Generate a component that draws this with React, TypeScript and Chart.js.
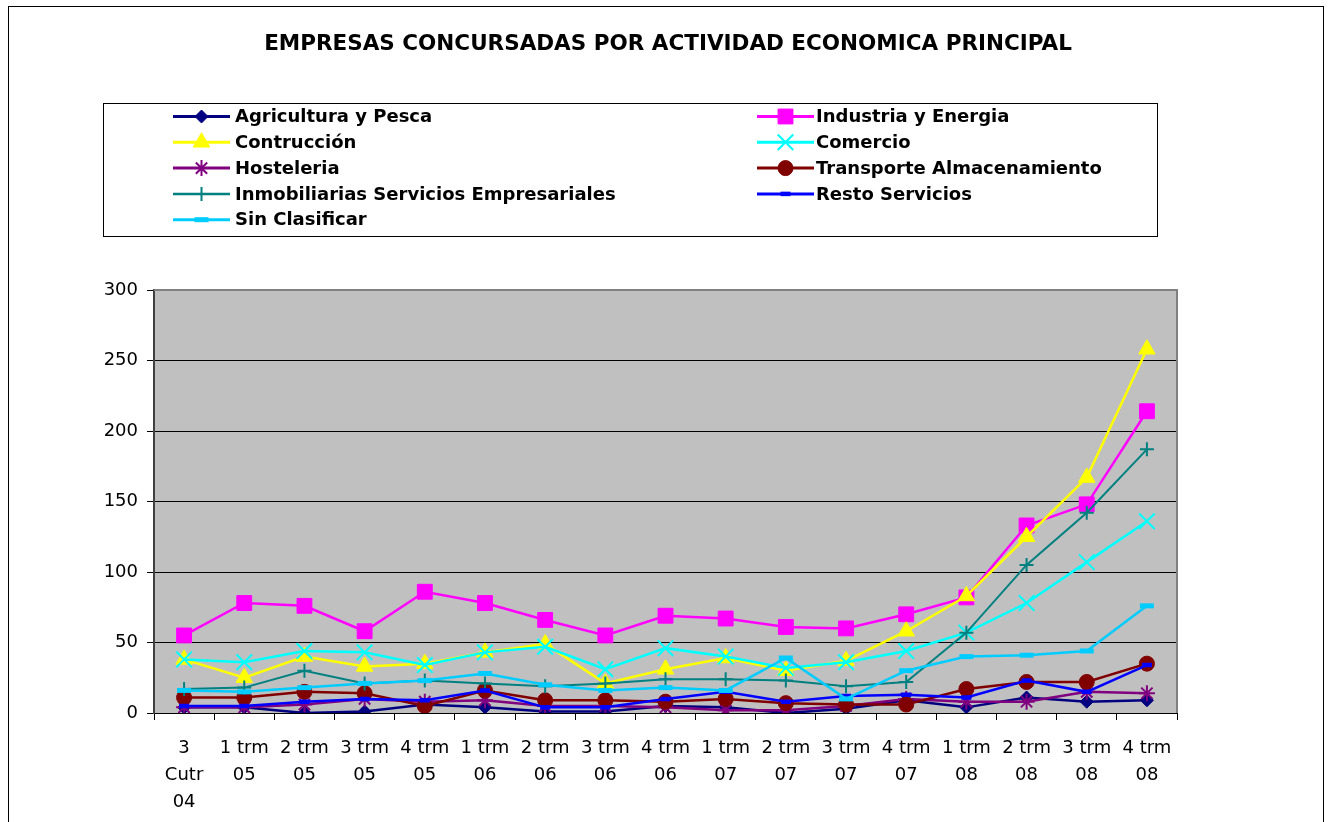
import React, { useEffect, useRef } from 'react';
import { Chart, registerables } from 'chart.js';
import { drawPoint } from 'chart.js/helpers';

Chart.register(...registerables);

const FONT = '"DejaVu Sans", "Liberation Sans", Arial, sans-serif';

const title = 'EMPRESAS CONCURSADAS POR ACTIVIDAD ECONOMICA PRINCIPAL';

const categories: string[][] = [
  ['3', 'Cutr', '04'],
  ['1 trm', '05'], ['2 trm', '05'], ['3 trm', '05'], ['4 trm', '05'],
  ['1 trm', '06'], ['2 trm', '06'], ['3 trm', '06'], ['4 trm', '06'],
  ['1 trm', '07'], ['2 trm', '07'], ['3 trm', '07'], ['4 trm', '07'],
  ['1 trm', '08'], ['2 trm', '08'], ['3 trm', '08'], ['4 trm', '08'],
];

const agricultura = [4, 4, 0, 1, 6, 4, 1, 1, 5, 4, 0, 3, 9, 4, 11, 8, 9];
const industria = [55, 78, 76, 58, 86, 78, 66, 55, 69, 67, 61, 60, 70, 82, 133, 148, 214];
const construccion = [38, 25, 40, 33, 35, 43, 49, 21, 31, 39, 30, 37, 58, 83, 125, 167, 258];
const comercio = [38, 36, 44, 43, 34, 43, 47, 31, 46, 40, 32, 36, 44, 57, 78, 107, 136];
const hosteleria = [4, 4, 6, 10, 8, 9, 5, 5, 4, 2, 2, 5, 10, 8, 8, 15, 14];
const transporte = [11, 11, 15, 14, 5, 16, 9, 9, 8, 10, 7, 6, 6, 17, 22, 22, 35];
const inmobiliarias = [17, 18, 30, 21, 23, 21, 19, 21, 24, 24, 23, 19, 22, 57, 105, 142, 187];
const resto = [5, 5, 8, 10, 9, 16, 4, 4, 10, 15, 8, 12, 13, 11, 23, 15, 34];
const sinClasificar = [16, 15, 18, 21, 23, 28, 20, 16, 18, 16, 39, 10, 30, 40, 41, 44, 76];

const yTicks = { min: 0, max: 300, step: 50 };

const seriesNames = [
  'Agricultura y Pesca',
  'Industria y Energia',
  'Contrucción',
  'Comercio',
  'Hosteleria',
  'Transporte Almacenamiento',
  'Inmobiliarias Servicios Empresariales',
  'Resto Servicios',
  'Sin Clasificar',
];
const seriesData = [agricultura, industria, construccion, comercio, hosteleria, transporte, inmobiliarias, resto, sinClasificar];
const seriesColors = ['#000080', '#FF00FF', '#FFFF00', '#00FFFF', '#800080', '#800000', '#008080', '#0000FF', '#00CCFF'];
const seriesStyles = ['rectRot', 'rect', 'triangle', 'crossRot', 'star', 'circle', 'cross', 'line', 'line'];
const seriesRadius = [6.5, 10.5, 9.5, 11, 8, 7.5, 7, 5, 7];
const seriesPointBorder = [1, 1, 1, 2, 2, 1, 2, 4.5, 5];
const seriesLineWidth = [2.5, 2.5, 2.5, 2.5, 2.5, 2.5, 2, 2.5, 2.5];

const plotBgPlugin = {
  id: 'plotBg',
  beforeDraw(chart: any) {
    const { ctx, chartArea: a } = chart;
    ctx.save();
    ctx.fillStyle = '#C0C0C0';
    ctx.fillRect(a.left, a.top, a.right - a.left, a.bottom - a.top);
    ctx.restore();
  },
  beforeDatasetsDraw(chart: any) {
    const { ctx, chartArea: a } = chart;
    ctx.save();
    ctx.strokeStyle = '#808080';
    ctx.lineWidth = 2;
    ctx.beginPath();
    ctx.moveTo(a.left, a.top);
    ctx.lineTo(a.right, a.top);
    ctx.lineTo(a.right, a.bottom);
    ctx.stroke();
    ctx.restore();
  },
};

const titleLegendPlugin = {
  id: 'titleLegend',
  afterDraw(chart: any) {
    const ctx = chart.ctx as CanvasRenderingContext2D;
    ctx.save();
    // title
    ctx.fillStyle = '#000';
    ctx.font = `bold 21.5px ${FONT}`;
    ctx.textAlign = 'center';
    ctx.textBaseline = 'alphabetic';
    ctx.fillText(title, chart.width / 2 + 2, 43);

    // legend box
    ctx.strokeStyle = '#000';
    ctx.lineWidth = 1;
    ctx.strokeRect(94.5, 96.5, 1054, 133);

    ctx.font = `bold 18px ${FONT}`;
    ctx.textAlign = 'left';
    ctx.textBaseline = 'middle';
    chart.data.datasets.forEach((ds: any, i: number) => {
      const col = i % 2;
      const row = Math.floor(i / 2);
      const x0 = col ? 748 : 164;
      const x1 = x0 + 57;
      const tx = col ? 807 : 226;
      const y = 109.5 + 25.8 * row;
      ctx.strokeStyle = ds.borderColor;
      ctx.lineWidth = ds.borderWidth + 0.5;
      ctx.setLineDash([]);
      ctx.beginPath();
      ctx.moveTo(x0, y);
      ctx.lineTo(x1, y);
      ctx.stroke();
      ctx.fillStyle = ds.pointBackgroundColor;
      ctx.strokeStyle = ds.pointBorderColor;
      ctx.lineWidth = ds.pointBorderWidth;
      drawPoint(ctx, { pointStyle: ds.pointStyle, rotation: 0, radius: ds.pointRadius, borderWidth: ds.pointBorderWidth } as any, (x0 + x1) / 2, y);
      ctx.fillStyle = '#000';
      ctx.fillText(ds.label, tx, y + 1);
    });
    ctx.restore();
  },
};

export default function App() {
  const canvasRef = useRef<HTMLCanvasElement | null>(null);

  useEffect(() => {
    const canvas = canvasRef.current;
    if (!canvas) return;
    const datasets = seriesNames.map((name, i) => ({
      label: name,
      data: seriesData[i],
      borderColor: seriesColors[i],
      backgroundColor: seriesColors[i],
      borderWidth: seriesLineWidth[i],
      pointStyle: seriesStyles[i],
      pointRadius: seriesRadius[i],
      pointHoverRadius: seriesRadius[i],
      pointBorderWidth: seriesPointBorder[i],
      pointBackgroundColor: seriesColors[i],
      pointBorderColor: seriesColors[i],
      fill: false,
      tension: 0,
      order: 8 - i,
    }));

    const chart = new Chart(canvas, {
      type: 'line',
      data: { labels: categories as any, datasets: datasets as any },
      options: {
        animation: false,
        responsive: false,
        devicePixelRatio: 1,
        layout: { padding: { top: 283, right: 146, bottom: 12, left: 0 } },
        plugins: {
          legend: { display: false },
          title: { display: false },
          tooltip: { enabled: false },
        },
        scales: {
          x: {
            type: 'category',
            offset: true,
            grid: {
              display: true,
              drawOnChartArea: false,
              drawTicks: true,
              tickLength: 7,
              color: '#000',
              offset: true,
              lineWidth: 1,
            },
            border: { display: true, color: '#000', width: 1 },
            ticks: {
              color: '#000',
              font: { family: FONT, size: 18, lineHeight: 1.5 },
              padding: 15,
              maxRotation: 0,
              minRotation: 0,
              autoSkip: false,
            },
            afterFit(s: any) {
              s.height = 110;
            },
          },
          y: {
            min: yTicks.min,
            max: yTicks.max,
            ticks: {
              stepSize: yTicks.step,
              color: '#000',
              font: { family: FONT, size: 18 },
              padding: 9,
            },
            grid: { color: '#000', tickLength: 7, drawTicks: true, lineWidth: 1 },
            border: { display: true, color: '#404040', width: 2 },
            afterFit(s: any) {
              s.width = 145;
            },
          },
        },
      } as any,
      plugins: [plotBgPlugin, titleLegendPlugin],
    });
    return () => chart.destroy();
  }, []);

  return (
    <div
      style={{
        position: 'fixed',
        left: 8,
        top: 6,
        width: 1316,
        height: 830,
        border: '1px solid #000',
        boxSizing: 'border-box',
        background: '#fff',
      }}
    >
      <canvas ref={canvasRef} width={1314} height={828} style={{ display: 'block', width: 1314, height: 828 }} />
    </div>
  );
}
